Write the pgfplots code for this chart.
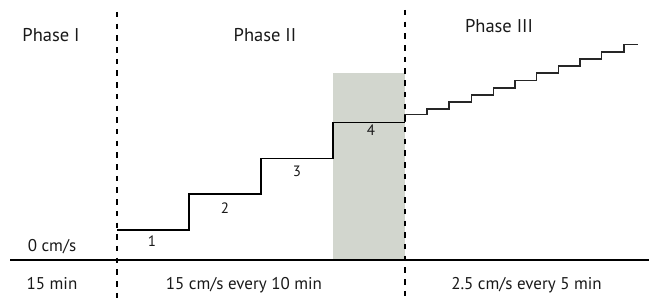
\documentclass[border=0pt]{standalone}
\usepackage{pgfplots}
\pgfplotsset{compat=1.18}
\usepackage{fontspec}
\setmainfont{PT Sans}
\definecolor{boxgray}{RGB}{210,214,206}
\definecolor{txt}{RGB}{25,25,25}
\newcommand{\ph}{\fontsize{18.5}{20}\selectfont}
\newcommand{\bt}{\fontsize{17}{18}\selectfont}
\newcommand{\nm}{\fontsize{15}{16}\selectfont}
\begin{document}
\begin{tikzpicture}
\begin{axis}[
  scale only axis, width=649pt, height=299pt,
  xmin=0, xmax=649, ymin=-39, ymax=260,
  axis lines=none, ticks=none, clip=true,
]
% shaded interval
\addplot[fill=boxgray, draw=none] coordinates {(333,0) (405,0) (405,187) (333,187)} -- cycle;
% baseline
\addplot[black, line width=2pt] coordinates {(10,0) (649,0)};
% phase II steps
\addplot[black, line width=1.8pt, const plot] coordinates {
(117,30) (189,66) (261,101.5) (333,137.5) (405,137.5)};
% phase III steps
\addplot[black!85, line width=1.2pt, const plot] coordinates {
(405,137.5) (405,145.5) (427,151) (449,158) (471.7,165) (493.3,172) (515,179.5)
(536.7,187) (558.3,194) (580,201) (601.7,208) (624,215.5) (638,215.5)};
% phase boundaries
\addplot[black, line width=2.4pt, dash pattern=on 5.5pt off 6.2pt] coordinates {(117,248) (117,-39)};
\addplot[black, line width=2.4pt, dash pattern=on 5.5pt off 6.2pt] coordinates {(405,250) (405,-39)};
% labels
\node[anchor=base, text=txt] at (axis cs:51,218) {\ph Phase I};
\node[anchor=base, text=txt] at (axis cs:265,218) {\ph Phase II};
\node[anchor=base, text=txt] at (axis cs:499,227) {\ph Phase III};
\node[anchor=base, text=txt] at (axis cs:52,8) {\bt 0 cm/s};
\node[anchor=base, text=txt] at (axis cs:152,13) {\nm 1};
\node[anchor=base, text=txt] at (axis cs:225,46) {\nm 2};
\node[anchor=base, text=txt] at (axis cs:297,83) {\nm 3};
\node[anchor=base, text=txt] at (axis cs:371,124) {\nm 4};
\node[anchor=base, text=txt] at (axis cs:52,-30) {\bt 15 min};
\node[anchor=base, text=txt] at (axis cs:244,-30) {\bt 15 cm/s every 10 min};
\node[anchor=base, text=txt] at (axis cs:526.5,-30) {\bt 2.5 cm/s every 5 min};
\end{axis}
\pgfresetboundingbox
\path (current axis.south west) rectangle (current axis.north east);
\end{tikzpicture}
\end{document}
